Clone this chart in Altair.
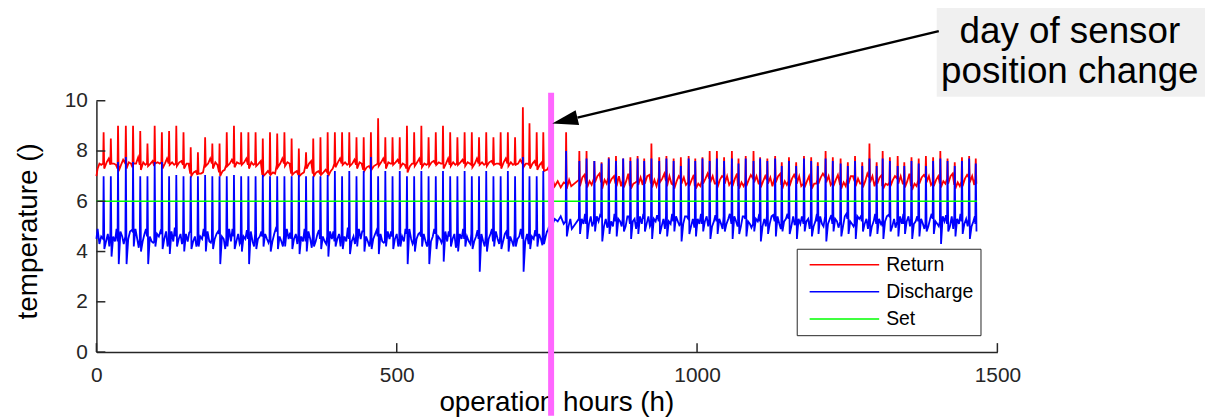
import altair as alt
import pandas as pd

FONT = "Liberation Sans"

# ---- cycle (spike) hours: before sensor change (62) and after (57)
hours = [
    12, 24, 36, 49, 61, 73, 85, 97, 109, 121,
    133, 145, 157, 169, 181, 193, 205, 217, 229, 241,
    253, 265, 277, 289, 301, 313, 325, 337, 349, 361,
    373, 385, 397, 409, 421, 433, 445, 457, 469, 481,
    493, 505, 517, 529, 541, 553, 565, 577, 589, 601,
    613, 625, 637, 649, 661, 673, 685, 697, 710, 721,
    733, 744,
    782, 804, 816, 829, 841, 853, 865, 877, 889, 901,
    912, 924, 937, 949, 961, 973, 986, 997, 1009, 1021,
    1033, 1045, 1058, 1069, 1081, 1094, 1105, 1117, 1130, 1141,
    1153, 1165, 1178, 1190, 1201, 1214, 1226, 1239, 1251, 1263,
    1275, 1287, 1299, 1309, 1321, 1334, 1345, 1357, 1369, 1381,
    1393, 1405, 1417, 1429, 1441, 1453, 1464,
]

# ---- Return temperature per cycle
ret_pre = [
    7.5, 7.45, 7.3, 7.5, 7.35, 7.45, 7.5, 7.4, 7.55, 7.5,
    7.5, 7.45, 7.1, 7.05, 7.5, 7.5, 7.15, 7.45, 7.5, 7.5,
    7.45, 7.5, 7.05, 7.1, 7.45, 7.5, 7.1, 7.05, 7.45, 7.1,
    7.1, 7.15, 7.5, 7.5, 7.5, 7.45, 7.25, 7.3, 7.5, 7.5,
    7.5, 7.5, 7.3, 7.5, 7.45, 7.5, 7.5, 7.5, 7.45, 7.5,
    7.5, 7.45, 7.5, 7.5, 7.5, 7.45, 7.5, 7.5, 7.5, 7.45,
    7.4, 7.3,
    6.7, 6.85, 6.7, 6.9, 6.75, 6.95, 6.7, 6.85, 6.6, 6.8,
    6.9, 6.7, 6.95, 6.8, 6.65, 6.9, 6.75, 6.6, 6.85, 6.9,
    6.7, 6.95, 6.8, 6.6, 6.75, 6.9, 6.7, 6.85, 6.95, 6.65,
    6.8, 6.9, 6.7, 6.6, 6.85, 6.95, 6.75, 6.65, 6.9, 6.8,
    6.7, 6.95, 6.85, 6.6, 6.75, 6.9, 6.7, 6.6, 6.85, 6.95,
    6.75, 6.7, 6.9, 6.65, 6.8, 6.95, 6.9,
]
ret_peak = [
    8.75, 8.5, 9.0, 9.0, 9.0, 8.8, 8.3, 9.0, 8.75, 8.8,
    9.0, 8.75, 8.15, 7.95, 8.55, 8.3, 8.3, 8.75, 9.0, 8.75,
    8.75, 8.75, 8.5, 8.75, 8.7, 8.75, 8.5, 8.1, 7.95, 8.5,
    8.55, 8.75, 8.75, 8.75, 8.75, 8.55, 8.55, 8.75, 9.3, 8.55,
    8.55, 8.55, 9.0, 8.75, 9.0, 8.55, 8.75, 9.0, 8.75, 8.55,
    8.75, 8.75, 8.55, 8.75, 8.55, 8.75, 8.75, 8.55, 9.74, 9.1,
    8.75, 8.75,
    8.75, 8.0, 8.0, 7.6, 7.55, 7.75, 7.8, 7.7, 7.75, 7.8,
    7.7, 8.3, 7.75, 7.8, 7.7, 7.75, 7.8, 7.7, 7.75, 8.0,
    8.0, 7.75, 8.0, 7.7, 7.8, 8.0, 7.75, 7.7, 7.8, 7.55,
    7.75, 7.55, 7.8, 7.75, 7.55, 8.0, 7.75, 7.7, 7.55, 7.8,
    7.55, 8.3, 7.55, 8.0, 7.75, 7.8, 7.55, 7.75, 7.7, 7.8,
    7.75, 8.0, 7.7, 7.55, 7.75, 7.8, 7.7,
]
ret_after = [
    7.3, 7.5, 7.2, 7.3, 7.5, 7.25, 7.4, 7.5, 7.3, 7.45,
    7.4, 7.3, 7.0, 7.1, 7.4, 7.3, 7.0, 7.4, 7.35, 7.45,
    7.3, 7.4, 7.0, 7.05, 7.35, 7.4, 7.05, 7.0, 7.3, 7.0,
    7.05, 7.0, 7.35, 7.45, 7.4, 7.3, 7.2, 7.25, 7.4, 7.3,
    7.45, 7.35, 7.15, 7.4, 7.35, 7.4, 7.45, 7.3, 7.4, 7.45,
    7.4, 7.35, 7.45, 7.4, 7.45, 7.3, 7.4, 7.45, 7.35, 7.3,
    7.25, 7.2,
    6.5, 6.6, 6.55, 6.75, 6.5, 6.7, 6.6, 6.55, 6.5, 6.65,
    6.7, 6.55, 6.75, 6.6, 6.5, 6.7, 6.6, 6.5, 6.7, 6.75,
    6.55, 6.7, 6.6, 6.5, 6.6, 6.75, 6.55, 6.7, 6.75, 6.5,
    6.6, 6.7, 6.55, 6.5, 6.7, 6.75, 6.6, 6.5, 6.7, 6.6,
    6.55, 6.75, 6.7, 6.5, 6.6, 6.7, 6.55, 6.45, 6.7, 6.75,
    6.6, 6.55, 6.7, 6.5, 6.6, 6.75, 6.7,
]
ret_mid = [
    7.55, 7.5, 7.45, 7.55, 7.5, 7.55, 7.5, 7.55, 7.5, 7.55,
    7.55, 7.5, 7.15, 7.1, 7.5, 7.55, 7.2, 7.5, 7.55, 7.55,
    7.55, 7.5, 7.1, 7.15, 7.5, 7.55, 7.15, 7.1, 7.5, 7.15,
    7.15, 7.2, 7.55, 7.55, 7.5, 7.55, 7.35, 7.4, 7.55, 7.55,
    7.55, 7.5, 7.4, 7.55, 7.5, 7.55, 7.55, 7.5, 7.55, 7.55,
    7.55, 7.5, 7.55, 7.55, 7.5, 7.55, 7.55, 7.5, 7.5, 7.5,
    7.45, 7.25,
    6.85, 6.95, 6.8, 7.0, 6.85, 6.9, 7.0, 6.8, 6.7, 6.95,
    7.0, 6.85, 6.9, 7.0, 6.8, 6.95, 6.85, 6.7, 6.9, 7.0,
    6.85, 7.0, 6.9, 6.75, 6.85, 7.0, 6.8, 6.95, 7.0, 6.8,
    6.9, 7.0, 6.8, 6.7, 6.95, 7.0, 6.85, 6.75, 7.0, 6.9,
    6.8, 7.0, 6.95, 6.7, 6.85, 7.0, 6.8, 6.7, 6.95, 7.0,
    6.85, 6.8, 7.0, 6.75, 6.9, 7.0, 6.95,
]
ret_noise = [
    7.7, 7.45, 7.65, 7.5, 7.75, 7.45, 7.6, 7.5, 7.7, 7.45,
    7.6, 7.5, 7.2, 7.15, 7.7, 7.45, 7.25, 7.65, 7.5, 7.7,
    7.45, 7.6, 7.2, 7.1, 7.7, 7.5, 7.2, 7.15, 7.6, 7.2,
    7.25, 7.3, 7.7, 7.45, 7.65, 7.5, 7.4, 7.45, 7.7, 7.5,
    7.65, 7.45, 7.5, 7.7, 7.45, 7.6, 7.5, 7.7, 7.45, 7.65,
    7.5, 7.7, 7.45, 7.6, 7.5, 7.7, 7.45, 7.65, 7.5, 7.6,
    7.55, 7.35,
    6.6, 7.05, 6.65, 7.1, 6.7, 7.0, 6.6, 7.1, 6.75, 6.65,
    7.05, 6.6, 7.1, 6.7, 7.0, 6.65, 7.05, 6.6, 7.1, 6.7,
    7.0, 6.65, 7.1, 6.6, 7.05, 6.7, 7.0, 6.6, 7.1, 6.65,
    7.05, 6.6, 7.0, 6.7, 7.1, 6.65, 7.05, 6.6, 7.0, 6.7,
    7.1, 6.6, 7.05, 6.65, 7.0, 6.7, 7.1, 6.6, 7.05, 6.65,
    7.0, 6.7, 7.1, 6.6, 7.05, 6.65, 7.0,
]

# ---- Discharge temperature per cycle
dis_pre = [
    4.5, 4.7, 4.4, 4.6, 4.8, 4.5, 4.6, 4.4, 4.7, 4.5,
    4.6, 4.5, 4.8, 4.4, 4.6, 4.5, 4.7, 4.5, 4.6, 4.4,
    4.5, 4.7, 4.6, 4.5, 4.8, 4.6, 4.5, 4.7, 4.4, 4.6,
    4.5, 4.6, 4.4, 4.7, 4.5, 4.6, 4.8, 4.5, 4.6, 4.4,
    4.6, 4.5, 4.7, 4.4, 4.6, 4.5, 4.7, 4.5, 4.6, 4.4,
    4.5, 4.7, 4.5, 4.6, 4.4, 4.6, 4.5, 4.7, 4.5, 4.8,
    4.6, 4.9,
    5.2, 5.3, 5.1, 5.2, 5.4, 5.1, 5.2, 5.3, 5.1, 5.2,
    5.3, 5.1, 5.2, 5.4, 5.2, 5.1, 5.3, 5.2, 5.1, 5.3,
    5.2, 5.4, 5.1, 5.2, 5.3, 5.1, 5.2, 5.4, 5.2, 5.1,
    5.3, 5.2, 5.1, 5.3, 5.2, 5.4, 5.1, 5.2, 5.3, 5.1,
    5.2, 5.3, 5.1, 5.2, 5.4, 5.2, 5.1, 5.3, 5.2, 5.1,
    5.3, 5.2, 5.1, 5.4, 5.2, 5.3, 5.1,
]
dis_peak = [
    7.0, 7.0, 7.56, 7.76, 7.56, 7.0, 7.0, 7.56, 7.56, 7.0,
    7.05, 7.0, 7.0, 7.0, 7.05, 7.0, 7.0, 7.0, 7.05, 7.0,
    7.0, 7.0, 7.05, 7.0, 7.0, 7.0, 7.0, 7.05, 7.0, 7.0,
    7.0, 7.05, 7.2, 7.0, 7.2, 7.0, 7.2, 7.76, 7.0, 7.2,
    7.0, 7.2, 7.0, 7.0, 7.2, 7.0, 7.0, 7.2, 7.0, 7.0,
    7.2, 7.0, 7.0, 7.2, 7.0, 7.0, 7.2, 7.0, 7.76, 7.0,
    7.0, 7.2,
    8.0, 7.6, 7.7, 7.6, 7.5, 7.7, 7.6, 7.7, 7.6, 7.7,
    7.6, 7.7, 7.6, 7.7, 7.6, 7.4, 7.7, 7.6, 7.7, 7.6,
    7.7, 7.6, 7.7, 7.5, 7.7, 7.6, 7.7, 7.6, 7.7, 7.4,
    7.6, 7.4, 7.7, 7.6, 7.4, 7.7, 7.6, 7.5, 7.4, 7.6,
    7.4, 7.7, 7.4, 7.7, 7.6, 7.4, 7.4, 7.6, 7.5, 7.4,
    7.6, 7.7, 7.6, 7.4, 7.6, 7.7, 7.5,
]
dis_dip = [
    4.1, 3.8, 3.5, 3.5, 4.2, 4.0, 3.5, 4.2, 4.1, 3.9,
    4.2, 4.0, 4.1, 4.2, 4.0, 4.1, 3.5, 4.2, 4.1, 4.0,
    3.5, 4.1, 4.2, 4.0, 4.1, 4.2, 4.1, 3.9, 4.0, 4.2,
    4.1, 3.8, 4.2, 4.1, 3.9, 4.2, 4.0, 4.1, 3.9, 4.2,
    4.1, 4.2, 3.5, 4.0, 4.2, 3.5, 4.1, 3.6, 4.2, 4.0,
    4.2, 4.1, 3.2, 4.0, 4.2, 4.1, 4.0, 4.2, 3.2, 4.1,
    4.2, 4.3,
    4.6, 4.7, 4.5, 4.8, 4.4, 4.7, 4.6, 4.8, 4.5, 4.7,
    4.8, 4.5, 4.7, 4.6, 4.8, 4.4, 4.7, 4.6, 4.8, 4.5,
    4.7, 4.8, 4.5, 4.7, 4.6, 4.8, 4.4, 4.7, 4.6, 4.8,
    4.7, 4.5, 4.8, 4.6, 4.7, 4.4, 4.8, 4.6, 4.7, 4.5,
    4.8, 4.6, 4.7, 4.5, 4.8, 4.6, 4.7, 4.5, 4.6, 4.8,
    4.7, 4.3, 4.8, 4.6, 4.7, 4.5, 4.8,
]
dis_mid1 = [
    4.4, 4.6, 4.8, 4.5, 4.9, 4.4, 4.6, 4.7, 4.5, 4.8,
    4.5, 4.7, 4.4, 4.6, 4.8, 4.5, 4.6, 4.9, 4.4, 4.6,
    4.8, 4.5, 4.7, 4.4, 4.6, 4.9, 4.5, 4.6, 4.8, 4.4,
    4.6, 4.8, 4.5, 4.6, 4.4, 4.9, 4.6, 4.5, 4.7, 4.8,
    4.5, 4.6, 4.9, 4.5, 4.7, 4.4, 4.6, 4.8, 4.5, 4.7,
    4.6, 4.4, 4.7, 4.5, 4.8, 4.4, 4.6, 4.5, 4.4, 4.6,
    4.7, 4.6,
    5.0, 5.3, 5.1, 5.4, 5.0, 5.2, 5.3, 5.0, 5.2, 5.4,
    5.1, 5.3, 5.0, 5.2, 5.4, 5.1, 5.0, 5.3, 5.2, 5.0,
    5.3, 5.1, 5.4, 5.0, 5.2, 5.3, 5.0, 5.1, 5.4, 5.2,
    5.0, 5.3, 5.2, 5.0, 5.4, 5.1, 5.3, 5.0, 5.2, 5.4,
    5.1, 5.0, 5.3, 5.2, 5.0, 5.4, 5.2, 5.1, 5.3, 5.0,
    5.2, 5.4, 5.0, 5.3, 5.1, 5.0, 5.2,
]
dis_mid2 = [
    4.7, 4.4, 4.6, 4.8, 4.5, 4.7, 4.4, 4.6, 4.8, 4.4,
    4.7, 4.4, 4.6, 4.5, 4.4, 4.7, 4.5, 4.4, 4.7, 4.5,
    4.4, 4.6, 4.5, 4.7, 4.4, 4.5, 4.7, 4.4, 4.5, 4.7,
    4.4, 4.5, 4.7, 4.4, 4.6, 4.5, 4.4, 4.7, 4.4, 4.5,
    4.7, 4.4, 4.5, 4.7, 4.4, 4.6, 4.5, 4.4, 4.7, 4.5,
    4.4, 4.6, 4.4, 4.7, 4.5, 4.7, 4.4, 4.6, 4.7, 4.5,
    4.5, 4.8,
    5.3, 5.1, 5.4, 5.2, 5.3, 5.0, 5.2, 5.4, 5.3, 5.1,
    5.4, 5.2, 5.3, 5.1, 5.2, 5.4, 5.3, 5.1, 5.4, 5.2,
    5.1, 5.3, 5.2, 5.4, 5.1, 5.2, 5.3, 5.4, 5.1, 5.3,
    5.4, 5.1, 5.3, 5.2, 5.1, 5.3, 5.2, 5.4, 5.1, 5.3,
    5.3, 5.2, 5.1, 5.4, 5.3, 5.1, 5.4, 5.2, 5.1, 5.3,
    5.1, 5.2, 5.4, 5.1, 5.3, 5.2, 5.4,
]
dis_noise = [
    4.2, 4.9, 4.3, 4.85, 4.15, 4.9, 4.35, 4.8, 4.2, 4.95,
    4.3, 4.75, 4.2, 4.9, 4.35, 4.8, 4.1, 4.9, 4.3, 4.85,
    4.2, 4.8, 4.35, 4.9, 4.2, 4.75, 4.3, 4.9, 4.15, 4.85,
    4.3, 4.8, 4.2, 4.95, 4.3, 4.8, 4.2, 4.85, 4.35, 4.8,
    4.2, 4.9, 4.3, 4.75, 4.2, 4.9, 4.35, 4.8, 4.15, 4.9,
    4.3, 4.85, 4.2, 4.9, 4.3, 4.8, 4.2, 4.9, 4.3, 4.85,
    4.25, 5.0,
    4.9, 5.5, 5.0, 5.45, 4.95, 5.5, 5.0, 5.4, 4.9, 5.5,
    5.0, 5.45, 4.9, 5.5, 5.05, 5.4, 4.95, 5.5, 5.0, 5.45,
    4.9, 5.5, 5.0, 5.4, 4.95, 5.5, 5.0, 5.45, 4.9, 5.5,
    5.05, 5.4, 4.9, 5.5, 5.0, 5.45, 4.95, 5.5, 5.0, 5.4,
    4.9, 5.5, 5.0, 5.45, 4.95, 5.5, 5.0, 5.4, 4.9, 5.5,
    5.0, 5.45, 4.9, 5.5, 5.0, 5.4, 4.95,
]

# start of record and the days around the sensor change
start_hours = [0, 2, 5, 8]
ret_start = [7.0, 7.3, 7.5, 7.45]
dis_start = [4.5, 4.9, 4.3, 4.6]
change_hours = [750, 754, 758, 763, 768, 773, 778]
ret_change = [7.25, 7.2, 7.0, 6.6, 6.8, 6.55, 6.75]
dis_change = [4.8, 4.9, 5.0, 5.3, 5.2, 5.4, 5.1]
end_hour = 1466
set_hours = [0, 1466]
set_values = [6.0, 6.0]
change_hour = [757]

series_names = ["Return", "Discharge", "Set"]
series_colors = ["#ff0000", "#0000ff", "#00ff00"]

n = len(hours)
for lst in (ret_pre, ret_peak, ret_after, ret_mid, ret_noise,
            dis_pre, dis_peak, dis_dip, dis_mid1, dis_mid2, dis_noise):
    assert len(lst) == n, len(lst)

# ---- build long tables
ret_rows = [(h, v) for h, v in zip(start_hours, ret_start)]
ret_rows += [(h, v) for h, v in zip(change_hours, ret_change)]
for h, a, b, c, d, e in zip(hours, ret_pre, ret_peak, ret_after, ret_mid, ret_noise):
    ret_rows += [(h - 0.8, a), (h, b), (h + 1.0, c), (h + 5.0, d), (h + 8.5, e)]
dis_rows = [(h, v) for h, v in zip(start_hours, dis_start)]
dis_rows += [(h, v) for h, v in zip(change_hours, dis_change)]
for h, a, b, c, d, e, f in zip(hours, dis_pre, dis_peak, dis_dip, dis_mid1, dis_mid2, dis_noise):
    dis_rows += [(h - 0.8, a), (h, b), (h + 1.2, c), (h + 4.0, d), (h + 7.0, e), (h + 9.5, f)]

df_ret = pd.DataFrame(ret_rows, columns=["hour", "temp"])
df_ret = df_ret[df_ret.hour <= end_hour].sort_values("hour")
df_ret["series"] = "Return"
df_dis = pd.DataFrame(dis_rows, columns=["hour", "temp"])
df_dis = df_dis[df_dis.hour <= end_hour].sort_values("hour")
df_dis["series"] = "Discharge"
df_set = pd.DataFrame({"hour": set_hours, "temp": set_values, "series": "Set"})

# ---- scales / axes
W, H = 907, 253
x_scale = alt.Scale(domain=[0, 1500], nice=False, zero=False)
y_scale = alt.Scale(domain=[0, 10], nice=False)
AX = "#262626"
x_axis = alt.Axis(
    title="operation hours (h)", values=[0, 500, 1000, 1500], format="d",
    grid=False, ticks=False, domainColor=AX, domainWidth=1.5,
    labelFont=FONT, labelFontSize=21, labelColor=AX, labelPadding=13,
    labelFlush=False, labelOverlap=False,
    titleFont=FONT, titleFontSize=28, titleFontWeight="normal", titleColor="black",
    titleX=463, titleY=59, titleAlign="center", titleBaseline="alphabetic",
)
y_axis = alt.Axis(
    title="temperature ()", values=[0, 2, 4, 6, 8, 10], format="d",
    grid=False, ticks=False, domainColor=AX, domainWidth=1.5,
    labelFont=FONT, labelFontSize=21, labelColor=AX, labelPadding=9,
    labelOverlap=False,
    titleFont=FONT, titleFontSize=28, titleFontWeight="normal", titleColor="black",
    titleX=-60, titleY=131, titleAngle=270, titleAlign="center", titleBaseline="alphabetic",
)


def ex(field):
    return alt.X(field, type="quantitative", scale=x_scale, axis=x_axis)


def ey(field):
    return alt.Y(field, type="quantitative", scale=y_scale, axis=y_axis)


color_enc = alt.Color(
    "series:N",
    scale=alt.Scale(domain=series_names, range=series_colors),
    legend=alt.Legend(
        title=None, orient="none", legendX=705, legendY=149, direction="vertical",
        symbolType="M-5,0H5", symbolSize=196, symbolStrokeWidth=1.5,
        labelFont=FONT, labelFontSize=19.5, labelColor="black",
        padding=6.25, rowPadding=6.3, symbolOffset=32, labelOffset=32.25,
        strokeColor=AX, fillColor="white",
    ),
)

lines = [
    alt.Chart(d).mark_line(strokeWidth=sw).encode(x=ex("hour"), y=ey("temp"), color=color_enc)
    for d, sw in ((df_ret, 1.8), (df_dis, 1.8), (df_set, 1.5))
]

# inward tick marks
yt = alt.Chart(pd.DataFrame({"v": [0, 2, 4, 6, 8, 10]})).mark_rule(color=AX, strokeWidth=1.5).encode(
    y=ey("v"), x=alt.value(0), x2=alt.value(9))
xt = alt.Chart(pd.DataFrame({"h": [0, 500, 1000, 1500]})).mark_rule(color=AX, strokeWidth=1.5).encode(
    x=ex("h"), y=alt.value(H), y2=alt.value(H - 9))

# annotation
box = alt.Chart(pd.DataFrame({"x0": [1399], "x1": [1950], "y0": [10.16], "y1": [14.5]})).mark_rect(
    color="#f0f0f0").encode(x=ex("x0"), x2="x1", y=ey("y0"), y2="y1")
ann_text = alt.Chart(pd.DataFrame({
    "h": [1620.6, 1620.6], "v": [12.29, 10.69], "t": ["day of sensor", "position change"]
})).mark_text(font=FONT, fontSize=37, align="center", baseline="alphabetic", color="black").encode(
    x=ex("h"), y=ey("v"), text="t:N")

vline = alt.Chart(pd.DataFrame({"h": change_hour})).mark_rule(color="#ff66ff", strokeWidth=6).encode(
    x=ex("h"), y=alt.value(-8), y2=alt.value(H + 64))

arrow = alt.Chart(pd.DataFrame({"x0": [1402.4], "y0": [12.77], "x1": [800.9], "y1": [9.33]})).mark_rule(
    color="black", strokeWidth=2.5).encode(x=ex("x0"), y=ey("y0"), x2="x1", y2="y1")
head = alt.Chart(pd.DataFrame({"h": [779.8], "v": [9.21]})).mark_point(
    shape="M0,-1L0.58,1L-0.58,1Z", filled=True, size=676, angle=256.6, color="black", opacity=1
).encode(x=ex("h"), y=ey("v"))

chart = alt.layer(box, ann_text, *lines, yt, xt, vline, arrow, head).properties(
    width=W, height=H,
    autosize=alt.AutoSizeParams(type="none"),
    padding={"left": 89, "top": 92, "right": 209, "bottom": 64},
    background="white",
).configure_view(stroke=None)

chart.save("out.html", embed_options={"renderer": "svg", "actions": False})
